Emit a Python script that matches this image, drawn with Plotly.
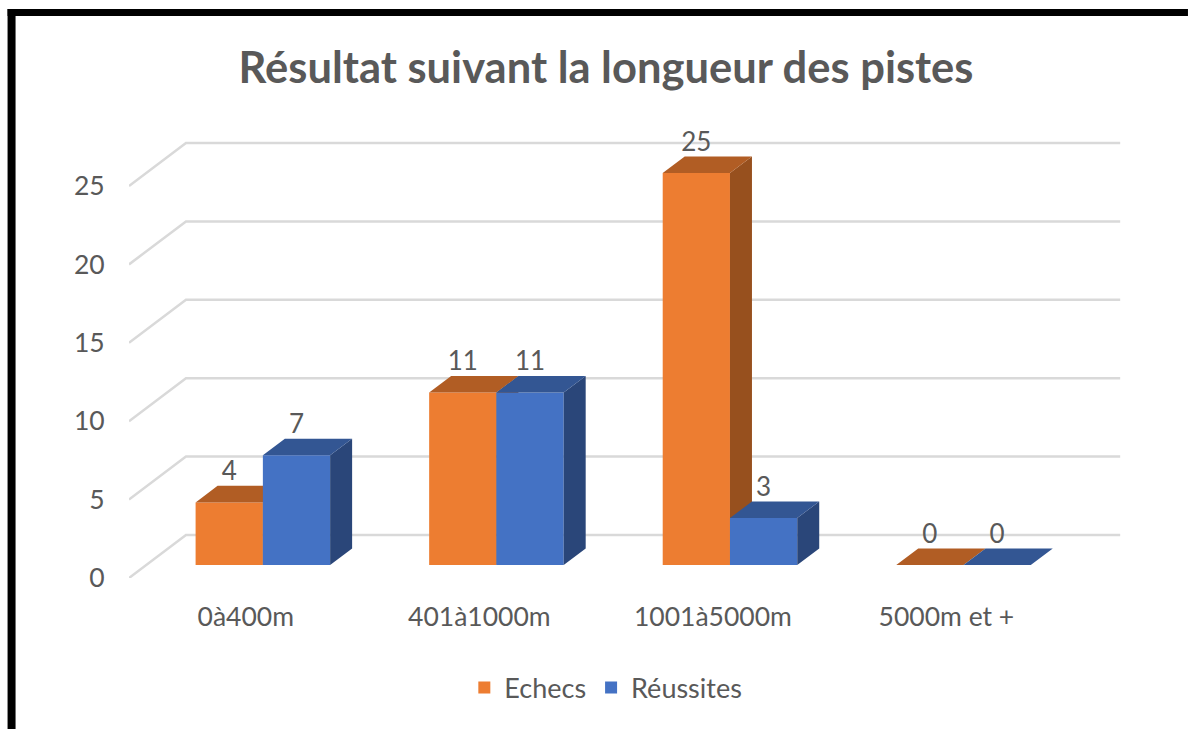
import plotly.graph_objects as go

categories = ["0à400m", "401à1000m", "1001à5000m", "5000m et +"]
echecs = [4, 11, 25, 0]
reussites = [7, 11, 3, 0]
y_ticks = [0, 5, 10, 15, 20, 25]

TITLE = "Résultat suivant la longueur des pistes"
FONT = "Lato, 'Open Sans', sans-serif"
TEXT = "#595959"
ORANGE, ORANGE_TOP, ORANGE_SIDE = "#ED7D31", "#B15D24", "#97501E"
BLUE, BLUE_TOP, BLUE_SIDE = "#4472C4", "#335693", "#2A4679"
GRID = "#D9D9D9"

W, H = 1188, 729
L, R, T, B = 128.5, 1125, 130, 578
PX_X = 233.67
PX_Y = 15.68
x_range = [-0.5, -0.5 + (R - L) / PX_X]
y_range = [0, (B - T) / PX_Y]

DX = 57 / PX_X      # full floor depth in x units
DY = 43 / PX_Y      # full floor depth in y units
D1, D2 = 0.30, 0.686  # bar front and back depth fractions
BW = 67.3 / PX_X
LABEL_GAP = 29 / PX_Y


def px(x):
    return (x - L) / (R - L)


def py(y):
    return (B - y) / (B - T)


def faces(values, side):
    """Side and top polygons of a 3D bar series, built from its values."""
    sx, sy, tx, ty = [], [], [], []
    for i, v in enumerate(values):
        c = i + D1 * DX
        x0 = c - BW if side == 0 else c
        x1 = x0 + BW
        f_base = D1 * DY
        b_base = D2 * DY
        ox = (D2 - D1) * DX
        sx += [x1, x1 + ox, x1 + ox, x1, x1, None]
        sy += [f_base, b_base, b_base + v, f_base + v, f_base, None]
        tx += [x0, x1, x1 + ox, x0 + ox, x0, None]
        ty += [f_base + v, f_base + v, b_base + v, b_base + v, f_base + v, None]
    return sx, sy, tx, ty


fig = go.Figure()


def add_series(name, values, side, front, top, sidecol, xa, ya):
    c = [i + D1 * DX + (-BW / 2 if side == 0 else BW / 2) for i in range(len(values))]
    fig.add_bar(x=c, y=values, base=D1 * DY, width=BW, name=name,
                marker=dict(color=front, line=dict(width=0)), xaxis=xa, yaxis=ya,
                hoverinfo="skip")
    sx, sy, tx, ty = faces(values, side)
    fig.add_scatter(x=sx, y=sy, mode="lines", fill="toself", fillcolor=sidecol,
                    line=dict(width=0), showlegend=False, xaxis=xa, yaxis=ya, hoverinfo="skip")
    fig.add_scatter(x=tx, y=ty, mode="lines", fill="toself", fillcolor=top,
                    line=dict(width=0), showlegend=False, xaxis=xa, yaxis=ya, hoverinfo="skip")


add_series("Echecs", echecs, 0, ORANGE, ORANGE_TOP, ORANGE_SIDE, "x2", "y2")
add_series("Réussites", reussites, 1, BLUE, BLUE_TOP, BLUE_SIDE, "x3", "y3")

for values, side in ((echecs, 0), (reussites, 1)):
    fig.add_scatter(
        x=[i + D1 * DX + (-BW / 2 if side == 0 else BW / 2) for i in range(len(values))],
        y=[v + D1 * DY + LABEL_GAP for v in values],
        text=[str(v) for v in values], mode="text", textposition="middle center",
        textfont=dict(family=FONT, size=26, color=TEXT), showlegend=False,
        xaxis="x3", yaxis="y3", cliponaxis=False, hoverinfo="skip")

# Wall and back gridlines, one per y tick
xl = x_range[0]
xr = 3.5
shapes = [
    dict(type="path", xref="x", yref="y", layer="below",
         path=f"M {xl} {t} L {xl + DX} {t + DY} L {xr + DX} {t + DY}",
         line=dict(color=GRID, width=2.5))
    for t in y_ticks
]
# Black frame of the screenshot
shapes += [
    dict(type="rect", xref="paper", yref="paper", x0=px(7), x1=px(W), y0=py(16), y1=py(9),
         fillcolor="black", line=dict(width=0)),
    dict(type="rect", xref="paper", yref="paper", x0=px(7), x1=px(15), y0=py(H), y1=py(9),
         fillcolor="black", line=dict(width=0)),
]

hidden = dict(range=x_range, visible=False, fixedrange=True)
hiddeny = dict(range=y_range, visible=False, fixedrange=True)

fig.update_layout(
    width=W, height=H, autosize=False,
    margin=dict(l=L, r=W - R, t=T, b=H - B, autoexpand=False),
    paper_bgcolor="white", plot_bgcolor="rgba(0,0,0,0)",
    font=dict(family=FONT, color=TEXT),
    title=dict(text=f"<b>{TITLE}</b>", x=606 / W, xanchor="center", xref="container",
               y=1 - 68 / H, yanchor="middle", yref="container",
               font=dict(family=FONT, size=43.5, color=TEXT)),
    barmode="overlay",
    shapes=shapes,
    xaxis=dict(range=x_range, tickmode="array", tickvals=list(range(len(categories))),
               ticktext=categories, showgrid=False, zeroline=False, showline=False,
               ticks="outside", ticklen=15, tickcolor="rgba(0,0,0,0)",
               tickfont=dict(family=FONT, size=26.5, color=TEXT), fixedrange=True),
    yaxis=dict(range=y_range, tickmode="array", tickvals=y_ticks,
               showgrid=False, zeroline=False, showline=False,
               ticks="outside", ticklen=18, tickcolor="rgba(0,0,0,0)",
               tickfont=dict(family=FONT, size=26.5, color=TEXT), fixedrange=True),
    xaxis2=dict(hidden, overlaying="x", anchor="y2"),
    yaxis2=dict(hiddeny, overlaying="y", anchor="x2"),
    xaxis3=dict(hidden, overlaying="x", anchor="y3"),
    yaxis3=dict(hiddeny, overlaying="y", anchor="x3"),
    legend=dict(orientation="h", x=px(464), xanchor="left", y=py(688), yanchor="middle",
                font=dict(family=FONT, size=27, color=TEXT), bgcolor="rgba(0,0,0,0)",
                itemclick=False, itemdoubleclick=False),
)

fig.write_html("out.html", config={"displayModeBar": False},
               post_script="document.body.style.margin='0';document.body.style.overflow='hidden';")
